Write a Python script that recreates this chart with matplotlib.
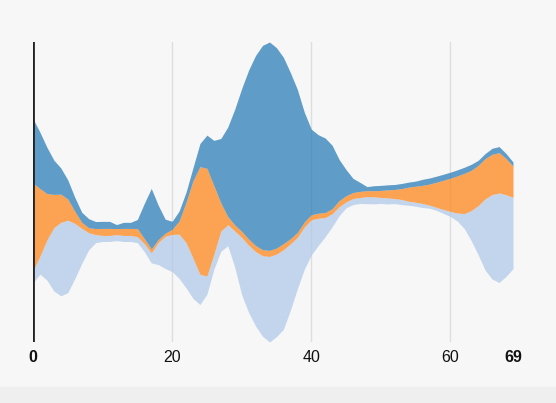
import matplotlib.pyplot as plt
import numpy as np

# streamgraph data, one value per step 0..69
steps = np.arange(70)

light = [12, 18, 40, 63, 73, 72, 55, 35, 17, 8,
         6, 6, 6, 6, 6, 6, 8, 10, 22, 32,
         37, 44, 45, 40, 30, 18, 15, 20, 21, 36,
         57, 67, 74, 80, 85, 82, 79, 66, 51, 42,
         35, 27, 19, 13, 9, 6, 6, 6, 7, 7,
         6, 6, 5, 5, 4, 4, 4, 3, 3, 4,
         5, 8, 15, 30, 49, 71, 84, 89, 81, 71]

orange = [87, 67, 46, 33, 28, 21, 12, 6, 5, 6,
          7, 7, 6, 7, 7, 8, 5, 4, 3, 3,
          5, 13, 40, 77, 107, 107, 68, 28, 8, 6,
          6, 6, 6, 6, 6, 6, 6, 5, 5, 5,
          5, 5, 5, 5, 6, 6, 6, 6, 6, 6,
          7, 8, 9, 11, 14, 16, 18, 21, 25, 29,
          33, 37, 40, 40, 40, 40, 40, 40, 36, 31]

blue = [64, 56, 46, 34, 26, 19, 14, 10, 9, 7,
        7, 7, 4, 6, 6, 9, 35, 60, 34, 14,
        8, 10, 10, 13, 23, 33, 45, 64, 89, 115,
        142, 168, 189, 203, 207, 199, 185, 165, 142, 109,
        85, 78, 74, 63, 41, 26, 14, 9, 4, 5,
        5, 5, 5, 5, 5, 5, 6, 6, 6, 6,
        6, 6, 6, 6, 5, 5, 6, 6, 5, 4]

colors = ["#aec7e8", "#ff7f0e", "#1f77b4"]
tick_pos = [0, 20, 40, 60, 69]
tick_text = ["0", "20", "40", "60", "69"]

layers = np.array([light, orange, blue], dtype=float)


def wiggle_baseline(layers):
    # same offset as d3.stackOffsetWiggle, starting at 0
    n, m = layers.shape
    base = np.zeros(m)
    y = 0.0
    for j in range(1, m):
        d = layers[:, j] - layers[:, j - 1]
        s1 = 0.0
        s2 = 0.0
        for i in range(n):
            s3 = d[i] / 2 + d[:i].sum()
            s1 += layers[i, j]
            s2 += s3 * layers[i, j]
        if s1:
            y -= s2 / s1
        base[j] = y
    return base


base = wiggle_baseline(layers)
edges = np.vstack([base, base + np.cumsum(layers, axis=0)])

fig = plt.figure(figsize=(5.56, 4.03), dpi=100, facecolor="#f7f7f7")
fig.patches.append(plt.Rectangle((0, 0), 1, 16 / 403, transform=fig.transFigure,
                                 color="#efefef", zorder=-1))
ax = fig.add_axes([33 / 556, 61 / 403, 480 / 556, 300 / 403])
ax.set_facecolor("none")

for g in [20, 40, 60]:
    ax.axvline(g, color="#dedede", lw=1, zorder=0)

for k in range(3):
    ax.fill_between(steps, edges[k], edges[k + 1], color=colors[k],
                    alpha=0.7, lw=0, zorder=1)

ax.axvline(0, color="#222222", lw=2, zorder=3)

ax.set_xlim(0, 69)
ax.set_ylim(edges.min(), edges.max())
for s in ax.spines.values():
    s.set_visible(False)
ax.set_yticks([])
ax.set_xticks(tick_pos)
ax.set_xticklabels(tick_text, fontsize=11.5, family="Liberation Sans", color="#111111")
for lab in ax.get_xticklabels():
    if lab.get_text() in ("0", "69"):
        lab.set_fontweight("bold")
ax.tick_params(axis="x", length=0, pad=5.5)

fig.savefig("out.png", dpi=100, facecolor=fig.get_facecolor())
